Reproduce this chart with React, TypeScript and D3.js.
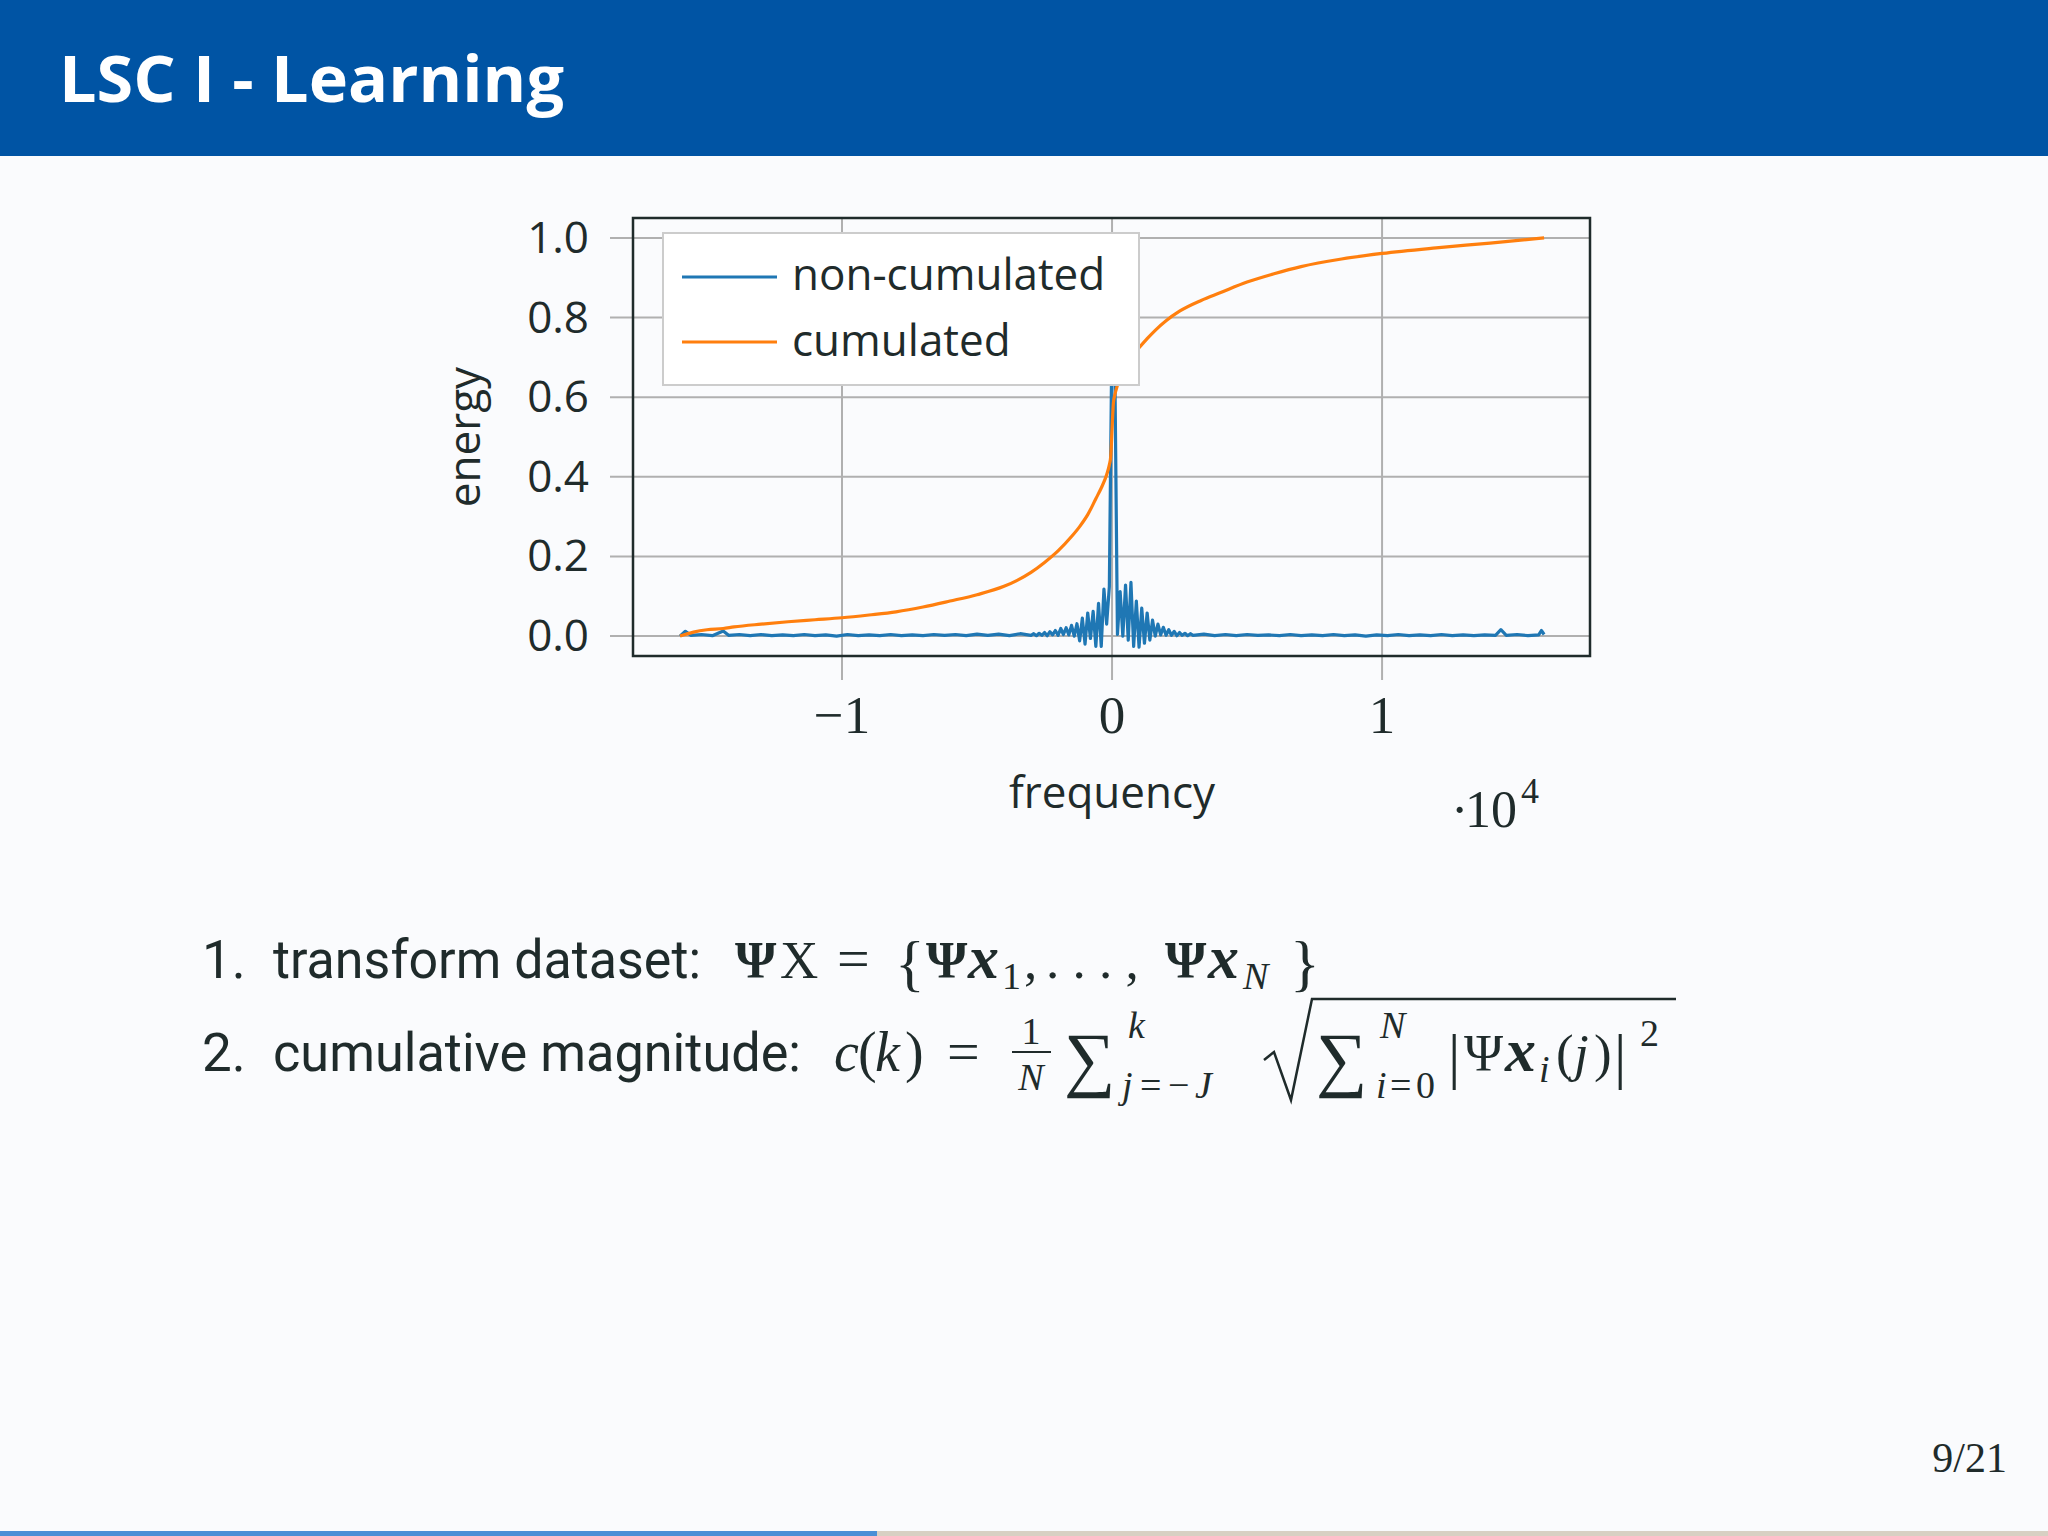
import React from "react";
import * as d3 from "d3";

// frequency in Hz, energy normalised to 1
const nonCumulated: [number, number][] = [
  [-16000, 0.0], [-15800, 0.012], [-15600, 0.002], [-15200, 0.004], [-14800, 0.001],
  [-14400, 0.013], [-14200, 0.002], [-13800, 0.004], [-13400, 0.001], [-13000, 0.004],
  [-12600, 0.001], [-12200, 0.003], [-11800, 0.001], [-11400, 0.004], [-11000, 0.001],
  [-10600, 0.003], [-10200, 0.0], [-9800, 0.004], [-9400, 0.001], [-9000, 0.003],
  [-8600, 0.001], [-8200, 0.004], [-7800, 0.001], [-7400, 0.003], [-7000, 0.001],
  [-6600, 0.004], [-6200, 0.002], [-5800, 0.004], [-5400, 0.001], [-5000, 0.005],
  [-4600, 0.002], [-4200, 0.005], [-3800, 0.001], [-3400, 0.006],
  [-3000, 0.002], [-2900, 0.006], [-2800, 0.001], [-2700, 0.007], [-2600, 0.002],
  [-2500, 0.009], [-2400, 0.001], [-2300, 0.011], [-2200, 0.003], [-2100, 0.014],
  [-2000, 0.002], [-1900, 0.019], [-1800, 0.004], [-1700, 0.021], [-1600, 0.003],
  [-1500, 0.027], [-1400, 0.0], [-1300, 0.031], [-1200, -0.012], [-1100, 0.045],
  [-1000, -0.02], [-900, 0.058], [-800, -0.006], [-700, 0.062], [-600, -0.026],
  [-500, 0.082], [-400, -0.026], [-300, 0.118], [-200, 0.03], [-100, 0.124],
  [0, 0.78], [100, 0.7], [200, 0.004], [300, 0.112], [400, 0.0],
  [500, 0.128], [600, -0.01], [700, 0.135], [800, -0.026], [900, 0.088],
  [1000, -0.028], [1100, 0.07], [1200, -0.018], [1300, 0.058], [1400, -0.01],
  [1500, 0.04], [1600, 0.0], [1700, 0.03], [1800, 0.003], [1900, 0.022],
  [2000, 0.002], [2100, 0.016], [2200, 0.002], [2300, 0.012], [2400, 0.001],
  [2500, 0.009], [2600, 0.002], [2700, 0.007], [2800, 0.001], [2900, 0.006],
  [3000, 0.002], [3400, 0.005], [3800, 0.001], [4200, 0.004], [4600, 0.001],
  [5000, 0.004], [5400, 0.002], [5800, 0.003], [6200, 0.001], [6600, 0.004],
  [7000, 0.001], [7400, 0.003], [7800, 0.001], [8200, 0.004], [8600, 0.001],
  [9000, 0.003], [9400, 0.0], [9800, 0.003], [10200, 0.001], [10600, 0.004],
  [11000, 0.001], [11400, 0.003], [11800, 0.001], [12200, 0.004], [12600, 0.001],
  [13000, 0.003], [13400, 0.001], [13800, 0.003], [14200, 0.002], [14400, 0.016],
  [14600, 0.002], [15000, 0.004], [15400, 0.001], [15800, 0.003], [15900, 0.014],
  [16000, 0.004],
];

const cumulated: [number, number][] = [
  [-16000, 0.0], [-15500, 0.01], [-15000, 0.016], [-14400, 0.019], [-14000, 0.023],
  [-13000, 0.03], [-12000, 0.036], [-11000, 0.041], [-10000, 0.046], [-9000, 0.053],
  [-8000, 0.061], [-7000, 0.073], [-6000, 0.088], [-5000, 0.104], [-4000, 0.125],
  [-3000, 0.16], [-2500, 0.185], [-2000, 0.214], [-1500, 0.25], [-1200, 0.275],
  [-900, 0.305], [-600, 0.345], [-400, 0.372], [-200, 0.405], [-100, 0.43],
  [-50, 0.45], [0, 0.52], [50, 0.585], [100, 0.605], [200, 0.63],
  [400, 0.665], [700, 0.7], [1000, 0.724], [1300, 0.747], [1600, 0.768],
  [2000, 0.792], [2500, 0.816], [3300, 0.843], [4000, 0.862], [5000, 0.889],
  [6000, 0.91], [7000, 0.928], [8500, 0.947], [10000, 0.961], [12000, 0.975],
  [14000, 0.987], [16000, 1.0],
];

const yTicks = [0, 0.2, 0.4, 0.6, 0.8, 1.0];
const xTicks = [-10000, 0, 10000];
const xTickLabels = ["−1", "0", "1"];
const legendLabels = ["non-cumulated", "cumulated"];
const seriesColors = ["#1f77b4", "#ff7f0e"];

const ink = "#1f2b2b";
const grid = "#b0b0b0";
const sans = "'Open Sans', 'DejaVu Sans', sans-serif";
const bodySans = "'Liberation Sans Narrow', Roboto, 'Open Sans', sans-serif";
const serif = "'Liberation Serif', 'DejaVu Serif', serif";

export default function App() {
  const left = 633, right = 1590, top = 218, bottom = 656;
  const x = d3.scaleLinear().domain([-17740, 17700]).range([left, right]);
  const y = d3.scaleLinear().domain([-0.05, 1.05]).range([bottom, top]);
  const line = d3
    .line<[number, number]>()
    .x((d) => x(d[0]))
    .y((d) => y(d[1]));
  const smooth = d3
    .line<[number, number]>()
    .x((d) => x(d[0]))
    .y((d) => y(d[1]))
    .curve(d3.curveMonotoneX);

  return (
    <svg
      width={2048}
      height={1536}
      style={{ position: "absolute", left: 0, top: 0 }}
    >
      <rect x={0} y={0} width={2048} height={1536} fill="#fafbfd" />
      {/* header */}
      <rect x={0} y={0} width={2048} height={156} fill="#0054a4" />
      <text
        x={59}
        y={102}
        fill="#ffffff"
        fontFamily="'Open Sans', Lato, sans-serif"
        fontWeight={700}
        fontSize={64}
        textLength={505}
        lengthAdjust="spacingAndGlyphs"
      >
        LSC I - Learning
      </text>

      {/* grid + ticks */}
      {yTicks.map((t) => (
        <line key={"gy" + t} x1={left - 23} x2={right} y1={y(t)} y2={y(t)} stroke={grid} strokeWidth={2} />
      ))}
      {xTicks.map((t) => (
        <line key={"gx" + t} x1={x(t)} x2={x(t)} y1={top} y2={bottom + 24} stroke={grid} strokeWidth={2} />
      ))}

      {/* series */}
      <path d={line(nonCumulated) ?? ""} fill="none" stroke={seriesColors[0]} strokeWidth={3.2} strokeLinejoin="round" />
      <path d={smooth(cumulated) ?? ""} fill="none" stroke={seriesColors[1]} strokeWidth={3.2} strokeLinejoin="round" />

      {/* legend */}
      <rect x={663} y={233} width={476} height={152} fill="#ffffff" stroke="#cccccc" strokeWidth={2} />
      {legendLabels.map((lab, i) => (
        <g key={lab}>
          <line x1={682} x2={777} y1={277 + i * 65} y2={277 + i * 65} stroke={seriesColors[i]} strokeWidth={3} />
          <text x={792} y={290 + i * 66} fill={ink} fontFamily={sans} fontSize={44}>
            {lab}
          </text>
        </g>
      ))}

      {/* axis box */}
      <rect x={left} y={top} width={right - left} height={bottom - top} fill="none" stroke={ink} strokeWidth={2.5} />

      {/* tick labels */}
      {yTicks.map((t) => (
        <text key={"ly" + t} x={589} y={y(t) + 15} textAnchor="end" fill={ink} fontFamily={sans} fontSize={44}>
          {d3.format(".1f")(t)}
        </text>
      ))}
      {xTicks.map((t, i) => (
        <text key={"lx" + t} x={x(t)} y={733} textAnchor="middle" fill={ink} fontFamily={serif} fontSize={53}>
          {xTickLabels[i]}
        </text>
      ))}
      <text x={1451} y={827} fill={ink} fontFamily={serif} fontSize={52}>
        ·
      </text>
      <text x={1465} y={827} fill={ink} fontFamily={serif} fontSize={52}>
        10
      </text>
      <text x={1521} y={803} fill={ink} fontFamily={serif} fontSize={36}>
        4
      </text>

      {/* axis labels */}
      <text x={x(0)} y={808} textAnchor="middle" fill={ink} fontFamily={sans} fontSize={44}>
        frequency
      </text>
      <text
        transform={`translate(480,${(top + bottom) / 2}) rotate(-90)`}
        textAnchor="middle"
        fill={ink}
        fontFamily={sans}
        fontSize={44}
      >
        energy
      </text>

      {/* item 1 */}
      <g fill={ink}>
        <text x={202} y={978} fontFamily={bodySans} fontSize={53}>1.</text>
        <text x={273} y={978} fontFamily={bodySans} fontSize={53} textLength={428} lengthAdjust="spacingAndGlyphs">
          transform dataset:
        </text>
        <text fontFamily={serif} fontSize={53}>
          <tspan x={735} y={978} fontWeight={700}>Ψ</tspan>
          <tspan x={780} y={978}>X</tspan>
          <tspan x={837} y={978} fontSize={58}>=</tspan>
        </text>
        <text x={895} y={984} fontFamily={serif} fontSize={62}>{"{"}</text>
        <text fontFamily={serif} fontSize={53}>
          <tspan x={926} y={978} fontWeight={700}>Ψ</tspan>
          <tspan x={968} y={978} fontWeight={700} fontStyle="italic" fontSize={62}>x</tspan>
          <tspan x={1002} y={989} fontSize={38}>1</tspan>
          <tspan x={1024} y={978}>,</tspan>
          <tspan x={1046} y={978}>. . . ,</tspan>
          <tspan x={1165} y={978} fontWeight={700}>Ψ</tspan>
          <tspan x={1208} y={978} fontWeight={700} fontStyle="italic" fontSize={62}>x</tspan>
          <tspan x={1243} y={989} fontSize={38} fontStyle="italic">N</tspan>
        </text>
        <text x={1290} y={984} fontFamily={serif} fontSize={62}>{"}"}</text>
      </g>

      {/* item 2 */}
      <g fill={ink}>
        <text x={202} y={1071} fontFamily={bodySans} fontSize={53}>2.</text>
        <text x={273} y={1071} fontFamily={bodySans} fontSize={53} textLength={528} lengthAdjust="spacingAndGlyphs">
          cumulative magnitude:
        </text>
        <text fontFamily={serif} fontSize={53}>
          <tspan x={834} y={1071} fontStyle="italic" fontSize={56}>c</tspan>
          <tspan x={858} y={1071} fontSize={56}>(</tspan>
          <tspan x={875} y={1071} fontStyle="italic" fontSize={56}>k</tspan>
          <tspan x={905} y={1071} fontSize={56}>)</tspan>
          <tspan x={947} y={1071} fontSize={58}>=</tspan>
        </text>
        <text fontFamily={serif} fontSize={38} textAnchor="middle">
          <tspan x={1031} y={1044}>1</tspan>
          <tspan x={1031} y={1090} fontStyle="italic">N</tspan>
        </text>
        <line x1={1012} x2={1051} y1={1052} y2={1052} stroke={ink} strokeWidth={2} />
        <text x={1064} y={1083} fontFamily={serif} fontSize={72}>∑</text>
        <text fontFamily={serif} fontSize={38}>
          <tspan x={1128} y={1038} fontStyle="italic">k</tspan>
          <tspan x={1122} y={1098} fontStyle="italic">j</tspan>
          <tspan x={1140} y={1098}>=</tspan>
          <tspan x={1168} y={1098}>−</tspan>
          <tspan x={1195} y={1098} fontStyle="italic">J</tspan>
        </text>
        <path d="M1264 1060 L1274 1052 L1291 1100 L1312 999 L1676 999" fill="none" stroke={ink} strokeWidth={2.5} />
        <text x={1316} y={1083} fontFamily={serif} fontSize={72}>∑</text>
        <text fontFamily={serif} fontSize={38}>
          <tspan x={1380} y={1038} fontStyle="italic">N</tspan>
          <tspan x={1376} y={1098} fontStyle="italic">i</tspan>
          <tspan x={1390} y={1098}>=</tspan>
          <tspan x={1416} y={1098}>0</tspan>
        </text>
        <text fontFamily={serif} fontSize={53}>
          <tspan x={1448} y={1077} fontSize={62}>|</tspan>
          <tspan x={1464} y={1071}>Ψ</tspan>
          <tspan x={1505} y={1071} fontWeight={700} fontStyle="italic" fontSize={62}>x</tspan>
          <tspan x={1539} y={1082} fontSize={38} fontStyle="italic">i</tspan>
          <tspan x={1556} y={1071}>(</tspan>
          <tspan x={1574} y={1071} fontStyle="italic">j</tspan>
          <tspan x={1594} y={1071}>)</tspan>
          <tspan x={1614} y={1077} fontSize={62}>|</tspan>
        </text>
        <text x={1640} y={1046} fontFamily={serif} fontSize={38}>2</text>
      </g>

      {/* page number + progress */}
      <text x={2007} y={1472} textAnchor="end" fill={ink} fontFamily={serif} fontSize={42}>
        9/21
      </text>
      <rect x={0} y={1531} width={877} height={5} fill="#4a8fd6" />
      <rect x={877} y={1531} width={1171} height={5} fill="#d8d0c3" />
    </svg>
  );
}
